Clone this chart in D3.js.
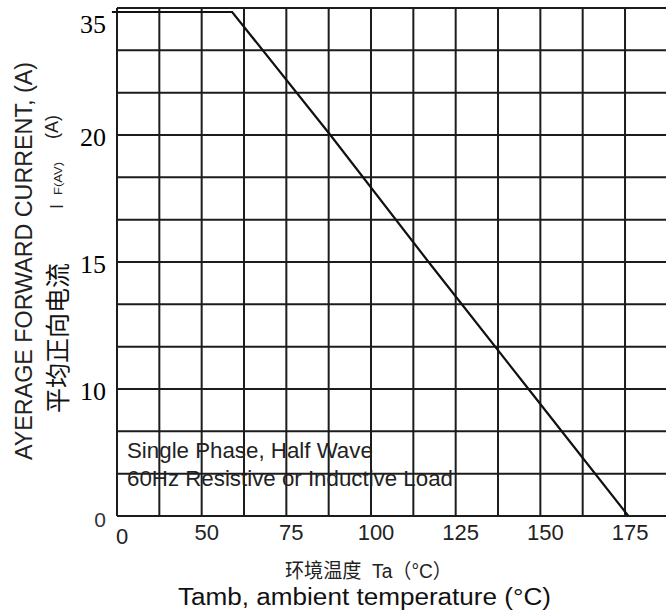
<!DOCTYPE html>
<html><head><meta charset="utf-8">
<script src="https://cdn.jsdelivr.net/npm/d3@7"></script>
<style>html,body{margin:0;padding:0;background:#fff;overflow:hidden}svg{display:block}</style>
</head><body>
<script>
// ---- data ----
const tempTicks = [25, 50, 75, 100, 125, 150, 175];
const tempTickLabels = ["0", "50", "75", "100", "125", "150", "175"];
const currentTicks = [0, 10, 15, 20, 35];
const currentTickLabels = ["0", "10", "15", "20", "35"];
const curveTemp = [23.5, 59, 88, 117, 146.5, 176];
const curveCurrent = [35, 35, 20, 15, 10, 0];
const gridTempStep = 12.5;
const gridRowCount = 12;
const notes = ["Single Phase, Half Wave", "60Hz Resistive or Inductive Load"];
const xTitles = ["环境温度\u00A0\u00A0Ta（°C）", "Tamb, ambient temperature (°C)"];
const yTitle = "AYERAGE FORWARD CURRENT, (A)";
const yTitleCn = "平均正向电流";

// ---- layout ----
const W = 666, H = 610;
const plotLeft = 117, plotBottom = 516, plotTop = 8, plotRight = 666;

const svg = d3.select("body").append("svg").attr("width", W).attr("height", H);

const x = d3.scaleLinear().domain([25, 187.1]).range([plotLeft, plotRight]);
const yGrid = d3.scaleLinear().domain([0, gridRowCount]).range([plotBottom, plotTop]);
const y = d3.scaleLinear().domain(currentTicks)
  .range([yGrid(0), yGrid(3), yGrid(6), yGrid(9), plotTop + 4]);

const ink = "#1c1c1c";

// grid
const g = svg.append("g");
const vLines = d3.range(25, 187.1, gridTempStep);
g.selectAll("line.v").data(vLines).join("line")
  .attr("x1", d => x(d)).attr("x2", d => x(d))
  .attr("y1", plotTop).attr("y2", plotBottom)
  .attr("stroke", ink).attr("stroke-width", 2);
g.selectAll("line.h").data(d3.range(0, gridRowCount + 1)).join("line")
  .attr("x1", plotLeft).attr("x2", plotRight)
  .attr("y1", d => yGrid(d)).attr("y2", d => yGrid(d))
  .attr("stroke", ink).attr("stroke-width", 2);

// curve
const pts = curveTemp.map((t, i) => [t, curveCurrent[i]]);
svg.append("path").datum(pts)
  .attr("d", d3.line().x(d => x(d[0])).y(d => y(d[1])))
  .attr("fill", "none").attr("stroke", "#111").attr("stroke-width", 2.2);

// y tick labels
svg.append("g").selectAll("text").data(currentTicks).join("text")
  .attr("x", 106)
  .attr("y", (d, i) => i === 0 ? y(d) + 11 : (i === currentTicks.length - 1 ? 33 : y(d) + 10.5))
  .attr("text-anchor", "end")
  .attr("font-family", (d, i) => i === 0 ? "Liberation Sans, Arial, sans-serif" : "Liberation Serif, Times New Roman, serif")
  .attr("font-size", (d, i) => i === 0 ? 21 : 26)
  .attr("fill", (d, i) => i === 0 ? "#333" : "#000")
  .text((d, i) => currentTickLabels[i]);

// x tick labels
svg.append("g").selectAll("text").data(tempTicks).join("text")
  .attr("x", d => x(d) + 5)
  .attr("y", (d, i) => i === 0 ? 544 : 540)
  .attr("text-anchor", "middle")
  .attr("font-family", "Liberation Sans, Arial, sans-serif")
  .attr("font-size", 22)
  .attr("fill", "#222")
  .text((d, i) => tempTickLabels[i]);

// notes
svg.append("g").selectAll("text").data(notes).join("text")
  .attr("x", plotLeft + 10)
  .attr("y", (d, i) => 458 + i * 28)
  .attr("font-family", "Liberation Sans, Arial, sans-serif")
  .attr("font-size", 22.3)
  .attr("fill", "#222")
  .text(d => d);

// x titles
svg.append("text").attr("x", 368.5).attr("y", 578)
  .attr("text-anchor", "middle")
  .attr("font-family", "Liberation Sans, Noto Sans CJK SC, sans-serif")
  .attr("font-size", 20).attr("fill", "#222")
  .attr("textLength", 167).attr("lengthAdjust", "spacingAndGlyphs")
  .text(xTitles[0]);
svg.append("text").attr("x", 364.5).attr("y", 605)
  .attr("text-anchor", "middle")
  .attr("font-family", "Liberation Sans, Arial, sans-serif")
  .attr("font-size", 23.5).attr("fill", "#111")
  .attr("textLength", 373).attr("lengthAdjust", "spacingAndGlyphs")
  .text(xTitles[1]);

// y titles (rotated)
function vtext(cx, cy, txt, size, family, fill, len) {
  const t = svg.append("text")
    .attr("transform", `translate(${cx},${cy}) rotate(-90)`)
    .attr("text-anchor", "middle")
    .attr("font-family", family)
    .attr("font-size", size).attr("fill", fill)
    .text(txt);
  if (len) t.attr("textLength", len).attr("lengthAdjust", "spacingAndGlyphs");
  return t;
}
vtext(32, 261, yTitle, 23, "Liberation Sans, Arial, sans-serif", "#222", 398);
vtext(67, 338, yTitleCn, 25, "Noto Sans CJK SC, sans-serif", "#111");
vtext(58, 127, "(A)", 18, "Liberation Sans, Arial, sans-serif", "#222");
vtext(63, 206.5, "I", 18, "Liberation Sans, Arial, sans-serif", "#222");
vtext(62, 178.5, "F(AV)", 11, "Liberation Sans, Arial, sans-serif", "#222", 33);
</script>
</body></html>
